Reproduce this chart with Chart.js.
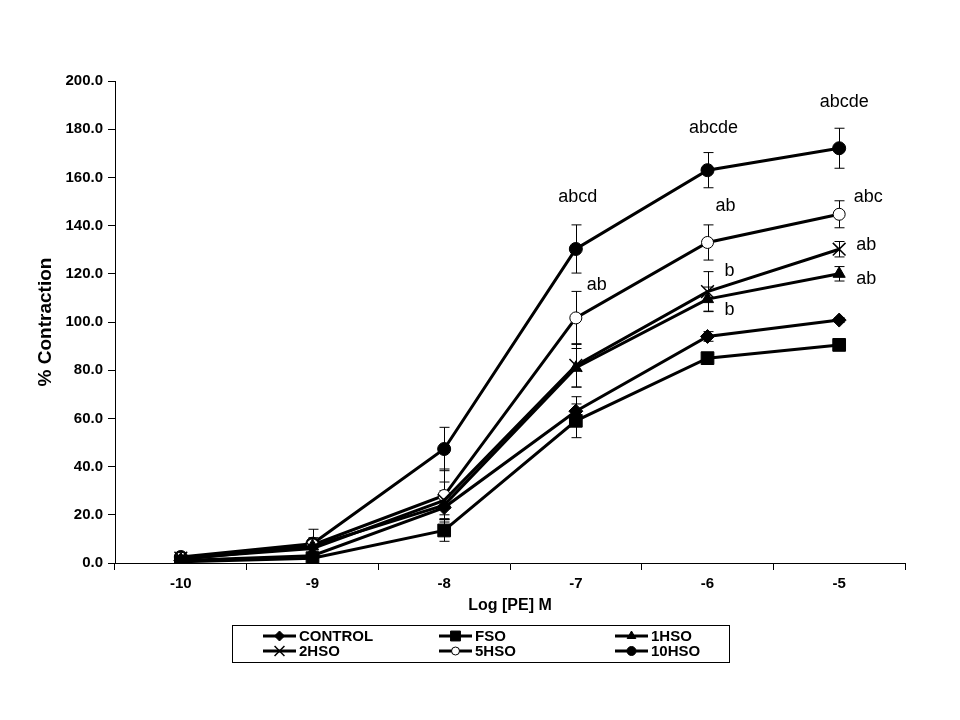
<!DOCTYPE html>
<html>
<head>
<meta charset="utf-8">
<title>% Contraction vs Log [PE] M</title>
<script src="https://cdn.jsdelivr.net/npm/chart.js"></script>
<style>
  body { margin: 0; background: #ffffff; }
</style>
</head>
<body>
<canvas id="chart" width="960" height="720"></canvas>
<script>
// x categories (log concentration of phenylephrine)
const doses = ['-10', '-9', '-8', '-7', '-6', '-5'];

// mean % contraction for each group
const control = [1, 3, 23, 63, 94, 100.8];
const fso     = [0.5, 2, 13.5, 59, 85, 90.5];
const hso1    = [1.5, 7, 24, 81, 109.5, 120];
const hso2    = [2, 6, 26, 82, 112.6, 130.2];
const hso5    = [2, 7.5, 28, 101.7, 133, 144.7];
const hso10   = [2.5, 8, 47.3, 130.3, 163, 172.1];

// error (+/-) for each group
const controlErr = [1, 1, 3, 6, 2, 1];
const fsoErr     = [0.5, 1, 4.5, 7, 1.5, 1];
const hso1Err    = [1, 2, 6, 8, 5, 3];
const hso2Err    = [1, 2, 7.6, 9, 8.3, 3.2];
const hso5Err    = [1, 3, 11, 11, 7.3, 5.6];
const hso10Err   = [1, 6, 9, 10, 7.3, 8.3];

const seriesNames = ['CONTROL', 'FSO', '1HSO', '2HSO', '5HSO', '10HSO'];

// y axis range
const yMin = 0, yMax = 200, yStep = 20;

// significance letters: [series, dose index, text]
const sigLabels = [
  ['10HSO', 3, 'abcd'],
  ['5HSO', 3, 'ab'],
  ['10HSO', 4, 'abcde'],
  ['5HSO', 4, 'ab'],
  ['2HSO', 4, 'b'],
  ['1HSO', 4, 'b'],
  ['10HSO', 5, 'abcde'],
  ['5HSO', 5, 'abc'],
  ['2HSO', 5, 'ab'],
  ['1HSO', 5, 'ab']
];
// where each letter group sits next to its point (pixels)
const sigOffsets = [
  [2, -52], [21, -33], [6, -42], [18, -36], [22, -21], [22, 11],
  [5, -46], [29, -17], [27, -4], [27, 5]
];

const values = [control, fso, hso1, hso2, hso5, hso10];
const errors = [controlErr, fsoErr, hso1Err, hso2Err, hso5Err, hso10Err];

const markers = [
  { pointStyle: 'rectRot', pointRadius: 7, fill: '#000', bw: 1 },
  { pointStyle: 'rect', pointRadius: 9, fill: '#000', bw: 1 },
  { pointStyle: 'triangle', pointRadius: 7, fill: '#000', bw: 1 },
  { pointStyle: 'crossRot', pointRadius: 9, fill: '#000', bw: 1.5 },
  { pointStyle: 'circle', pointRadius: 6, fill: '#fff', bw: 1 },
  { pointStyle: 'circle', pointRadius: 6.5, fill: '#000', bw: 1 }
];

const datasets = seriesNames.map((name, i) => ({
  label: name,
  data: values[i],
  borderColor: '#000',
  borderWidth: 3,
  backgroundColor: markers[i].fill,
  pointStyle: markers[i].pointStyle,
  pointRadius: markers[i].pointRadius,
  pointBorderColor: '#000',
  pointBackgroundColor: markers[i].fill,
  pointBorderWidth: markers[i].bw,
  tension: 0,
  fill: false
}));

// vertical error bars with caps
const errorBars = {
  id: 'errorBars',
  beforeDatasetsDraw(chart) {
    const ctx = chart.ctx;
    const xs = chart.scales.x, ys = chart.scales.y;
    ctx.save();
    ctx.strokeStyle = '#000';
    ctx.lineWidth = 1;
    errors.forEach((errs, i) => {
      errs.forEach((e, j) => {
        const x = Math.round(xs.getPixelForValue(j)) + 0.5;
        const yTop = ys.getPixelForValue(values[i][j] + e);
        const yBot = ys.getPixelForValue(values[i][j] - e);
        ctx.beginPath();
        ctx.moveTo(x, yTop); ctx.lineTo(x, yBot);
        ctx.moveTo(x - 5, yTop); ctx.lineTo(x + 5, yTop);
        ctx.moveTo(x - 5, yBot); ctx.lineTo(x + 5, yBot);
        ctx.stroke();
      });
    });
    ctx.restore();
  }
};

// significance letters next to points
const letters = {
  id: 'letters',
  afterDatasetsDraw(chart) {
    const ctx = chart.ctx;
    ctx.save();
    ctx.fillStyle = '#000';
    ctx.font = '18px "Liberation Sans", Arial, sans-serif';
    ctx.textAlign = 'center';
    ctx.textBaseline = 'middle';
    sigLabels.forEach((s, k) => {
      const di = seriesNames.indexOf(s[0]);
      const pt = chart.getDatasetMeta(di).data[s[1]];
      ctx.fillText(s[2], pt.x + sigOffsets[k][0], pt.y + sigOffsets[k][1]);
    });
    ctx.restore();
  }
};

// boxed legend, three columns
const boxLegend = {
  id: 'boxLegend',
  afterDraw(chart) {
    const ctx = chart.ctx;
    const colX = [263, 439, 615];
    const rowY = [636, 651];
    ctx.save();
    ctx.strokeStyle = '#000';
    ctx.lineWidth = 1;
    ctx.strokeRect(232.5, 625.5, 497, 37);
    ctx.font = 'bold 15px "Liberation Sans", Arial, sans-serif';
    ctx.textBaseline = 'middle';
    ctx.textAlign = 'left';
    seriesNames.forEach((name, i) => {
      const x = colX[i % 3], y = rowY[Math.floor(i / 3)];
      ctx.strokeStyle = '#000';
      ctx.lineWidth = 3;
      ctx.beginPath();
      ctx.moveTo(x, y); ctx.lineTo(x + 33, y);
      ctx.stroke();
      ctx.fillStyle = markers[i].fill;
      ctx.lineWidth = markers[i].bw;
      Chart.helpers.drawPoint(ctx, {
        pointStyle: markers[i].pointStyle,
        radius: markers[i].pointRadius - 2,
        borderWidth: markers[i].bw,
        rotation: 0
      }, x + 16.5, y);
      ctx.fillStyle = '#000';
      ctx.fillText(name, x + 36, y + 1);
    });
    ctx.restore();
  }
};

new Chart(document.getElementById('chart'), {
  type: 'line',
  data: { labels: doses, datasets: datasets },
  plugins: [errorBars, letters, boxLegend],
  options: {
    responsive: false,
    animation: false,
    devicePixelRatio: 1,
    layout: { padding: { left: 34, right: 55, top: 81, bottom: 105 } },
    plugins: {
      legend: { display: false },
      tooltip: { enabled: false }
    },
    scales: {
      x: {
        type: 'category',
        offset: true,
        afterFit(scale) { scale.height = 52; },
        border: { color: '#000', width: 1 },
        grid: { offset: true, drawOnChartArea: false, drawTicks: true, tickLength: 7, color: '#000' },
        ticks: {
          color: '#000',
          padding: 5,
          font: { family: '"Liberation Sans", Arial, sans-serif', size: 15, weight: 'bold' }
        },
        title: {
          display: true,
          text: 'Log [PE] M',
          color: '#000',
          padding: 0,
          font: { family: '"Liberation Sans", Arial, sans-serif', size: 16, weight: 'bold' }
        }
      },
      y: {
        min: yMin,
        max: yMax,
        afterFit(scale) { scale.width = 81; },
        border: { color: '#000', width: 1 },
        grid: { drawOnChartArea: false, drawTicks: true, tickLength: 7, color: '#000' },
        ticks: {
          stepSize: yStep,
          color: '#000',
          padding: 5,
          callback: v => v.toFixed(1),
          font: { family: '"Liberation Sans", Arial, sans-serif', size: 15, weight: 'bold' }
        },
        title: {
          display: true,
          text: '% Contraction',
          color: '#000',
          padding: 0,
          font: { family: '"Liberation Sans", Arial, sans-serif', size: 19, weight: 'bold' }
        }
      }
    }
  }
});
</script>
</body>
</html>
